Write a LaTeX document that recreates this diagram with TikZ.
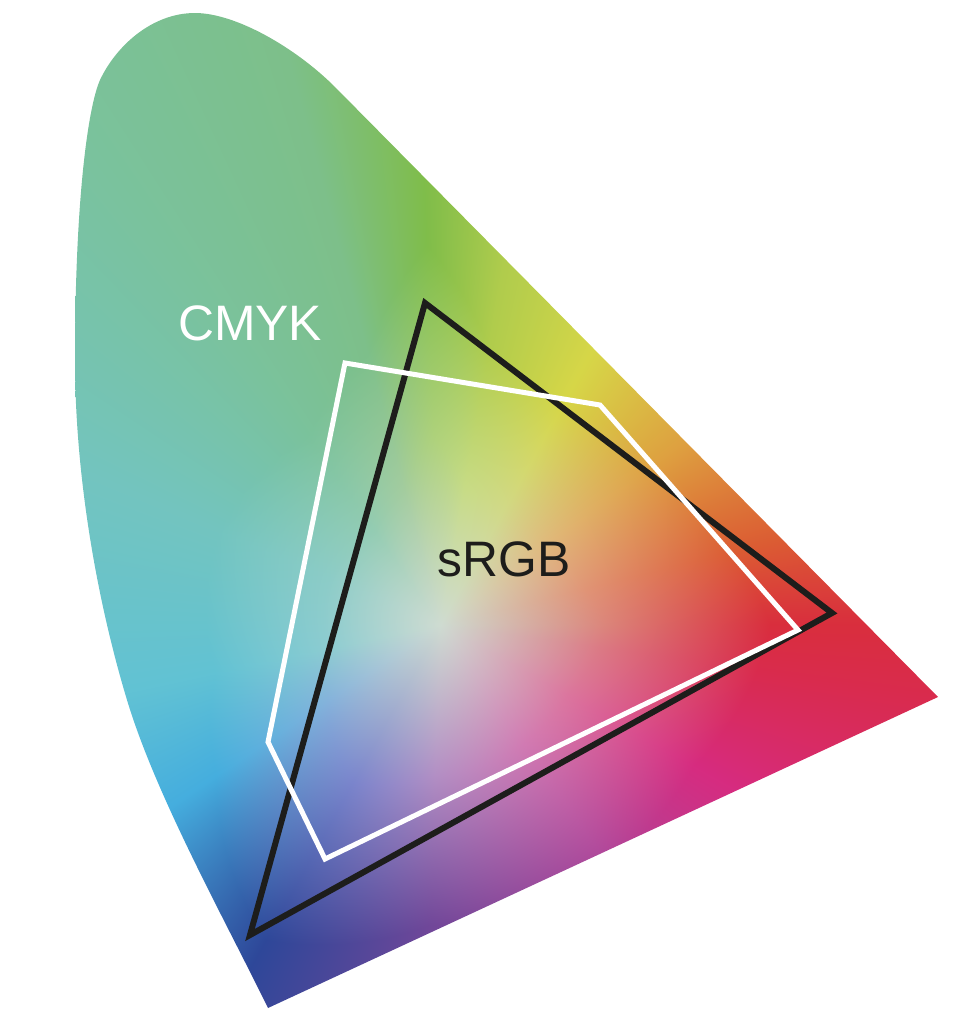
\documentclass[tikz,border=0pt]{standalone}
\usepackage{fontspec}
\setmainfont{Liberation Sans}
\definecolor{gblack}{HTML}{1D1D1B}
% t = (a - a0)/(a1 - a0)
\def\myT#1#2{ #1 sub #2 #1 sub div }
% t -> four values, linear between (#1 #2 #3 #4) and (#5 #6 #7 #8)
\def\myLerp#1#2#3#4#5#6#7#8{ dup #5 #1 sub mul #1 add exch dup #6 #2 sub mul #2 add exch dup #7 #3 sub mul #3 add exch #8 #4 sub mul #4 add }
\pgfdeclarefunctionalshading{cie}{\pgfpointorigin}{\pgfpoint{977bp}{1024bp}}{}{
 exch 440.137 sub exch 399.311 sub
 2 copy dup mul exch dup mul add sqrt
 3 1 roll exch atan dup
 % edge colour and saturation radius by hue angle
 dup 14 lt { \myT{0}{14} \myLerp{0.85}{0.18}{0.24}{330}{0.86}{0.36}{0.20}{300} } {
 dup 37 lt { \myT{14}{37} \myLerp{0.86}{0.36}{0.20}{300}{0.87}{0.63}{0.25}{270} } {
 dup 61 lt { \myT{37}{61} \myLerp{0.87}{0.63}{0.25}{270}{0.84}{0.84}{0.28}{250} } {
 dup 80 lt { \myT{61}{80} \myLerp{0.84}{0.84}{0.28}{250}{0.69}{0.80}{0.30}{280} } {
 dup 92 lt { \myT{80}{92} \myLerp{0.69}{0.80}{0.30}{280}{0.50}{0.74}{0.29}{380} } {
 dup 105 lt { \myT{92}{105} \myLerp{0.50}{0.74}{0.29}{380}{0.49}{0.75}{0.54}{280} } {
 dup 125 lt { \myT{105}{125} \myLerp{0.49}{0.75}{0.54}{280}{0.48}{0.76}{0.61}{230} } {
 dup 157 lt { \myT{125}{157} \myLerp{0.48}{0.76}{0.61}{230}{0.45}{0.77}{0.75}{240} } {
 dup 192 lt { \myT{157}{192} \myLerp{0.45}{0.77}{0.75}{240}{0.38}{0.76}{0.83}{230} } {
 dup 214 lt { \myT{192}{214} \myLerp{0.38}{0.76}{0.83}{230}{0.27}{0.68}{0.87}{270} } {
 dup 241 lt { \myT{214}{241} \myLerp{0.27}{0.68}{0.87}{270}{0.18}{0.28}{0.60}{360} } {
 dup 268 lt { \myT{241}{268} \myLerp{0.18}{0.28}{0.60}{360}{0.44}{0.28}{0.60}{300} } {
 dup 305 lt { \myT{268}{305} \myLerp{0.44}{0.28}{0.60}{300}{0.68}{0.27}{0.60}{290} } {
 dup 331 lt { \myT{305}{331} \myLerp{0.68}{0.27}{0.60}{290}{0.84}{0.17}{0.50}{290} } {
 dup 352 lt { \myT{331}{352} \myLerp{0.84}{0.17}{0.50}{290}{0.85}{0.17}{0.30}{320} } {
 \myT{352}{360} \myLerp{0.85}{0.17}{0.30}{320}{0.85}{0.18}{0.24}{330}
 } ifelse } ifelse } ifelse } ifelse } ifelse
 } ifelse } ifelse } ifelse } ifelse } ifelse
 } ifelse } ifelse } ifelse } ifelse } ifelse
 % u = r / S, clamped
 6 -1 roll exch div dup 1 gt { pop 1 } if
 5 -1 roll
 % mid colour by hue angle
 dup 14 lt { \myT{0}{14} \myLerp{0.86}{0.52}{0.48}{0.5}{0.88}{0.58}{0.46}{0.5} } {
 dup 37 lt { \myT{14}{37} \myLerp{0.88}{0.58}{0.46}{0.5}{0.88}{0.72}{0.48}{0.5} } {
 dup 61 lt { \myT{37}{61} \myLerp{0.88}{0.72}{0.48}{0.5}{0.82}{0.85}{0.54}{0.5} } {
 dup 80 lt { \myT{61}{80} \myLerp{0.82}{0.85}{0.54}{0.5}{0.78}{0.86}{0.52}{0.5} } {
 dup 92 lt { \myT{80}{92} \myLerp{0.78}{0.86}{0.52}{0.5}{0.68}{0.82}{0.48}{0.5} } {
 dup 105 lt { \myT{92}{105} \myLerp{0.68}{0.82}{0.48}{0.5}{0.64}{0.80}{0.62}{0.5} } {
 dup 125 lt { \myT{105}{125} \myLerp{0.64}{0.80}{0.62}{0.5}{0.58}{0.80}{0.70}{0.5} } {
 dup 157 lt { \myT{125}{157} \myLerp{0.58}{0.80}{0.70}{0.5}{0.55}{0.80}{0.78}{0.5} } {
 dup 192 lt { \myT{157}{192} \myLerp{0.55}{0.80}{0.78}{0.5}{0.55}{0.80}{0.82}{0.5} } {
 dup 214 lt { \myT{192}{214} \myLerp{0.55}{0.80}{0.82}{0.5}{0.52}{0.70}{0.86}{0.5} } {
 dup 241 lt { \myT{214}{241} \myLerp{0.52}{0.70}{0.86}{0.5}{0.48}{0.52}{0.80}{0.5} } {
 dup 268 lt { \myT{241}{268} \myLerp{0.48}{0.52}{0.80}{0.5}{0.70}{0.56}{0.77}{0.5} } {
 dup 305 lt { \myT{268}{305} \myLerp{0.70}{0.56}{0.77}{0.5}{0.82}{0.48}{0.70}{0.5} } {
 dup 331 lt { \myT{305}{331} \myLerp{0.82}{0.48}{0.70}{0.5}{0.86}{0.46}{0.62}{0.5} } {
 dup 352 lt { \myT{331}{352} \myLerp{0.86}{0.46}{0.62}{0.5}{0.86}{0.48}{0.52}{0.5} } {
 \myT{352}{360} \myLerp{0.86}{0.48}{0.52}{0.5}{0.86}{0.52}{0.48}{0.5}
 } ifelse } ifelse } ifelse } ifelse } ifelse
 } ifelse } ifelse } ifelse } ifelse } ifelse
 } ifelse } ifelse } ifelse } ifelse } ifelse
 % stack: Er Eg Eb u Mr Mg Mb Q
 4 index 1 index lt {
   5 -1 roll exch div
   exch 0.82 sub 1 index mul 0.82 add 3 1 roll
   exch 0.86 sub 1 index mul 0.86 add 3 1 roll
   4 -1 roll 0.81 sub mul 0.81 add 3 1 roll
   6 3 roll pop pop pop
 } {
   5 -1 roll 1 index sub exch 1 exch sub div
   exch 5 -1 roll 1 index sub 2 index mul add
   5 -1 roll 3 index sub 2 index mul 3 index add
   4 -1 roll pop
   5 -1 roll 4 index sub 3 index mul 4 index add
   3 1 roll exch
   5 3 roll pop pop
 } ifelse
}
\tikzset{
  blackgamut/.style={draw=gblack, line width=6bp, line join=miter},
  whitegamut/.style={draw=white, line width=5bp, line join=miter},
  lbl/.style={font=\fontsize{50}{60}\selectfont, inner sep=0pt, anchor=base}
}
\begin{document}
\begin{tikzpicture}[x=1bp, y=-1bp]
\useasboundingbox (0,0) rectangle (977,1024);
% horseshoe
\begin{scope}
\path[clip] (938,697) -- (335,87)
  .. controls (295,47) and (235,13) .. (195,13)
  .. controls (152,13) and (116,46) .. (100,80)
  .. controls (88,107) and (75,200) .. (75,360)
  .. controls (75,470) and (95,594) .. (127,700)
  .. controls (156,796) and (224,918) .. (268,1008)
  -- cycle;
\node[inner sep=0pt, outer sep=0pt, anchor=south west] (shade) at (0,1024) {\pgfuseshading{cie}};
\end{scope}
% gamut outlines
\coordinate (b1) at (425,303);
\coordinate (b2) at (832,613);
\coordinate (b3) at (250,935);
\coordinate (w1) at (345,363);
\coordinate (w2) at (600,405);
\coordinate (w3) at (798,630);
\coordinate (w4) at (325,859);
\coordinate (w5) at (268,742);
\draw[blackgamut] (b1) -- (b2) -- (b3) -- cycle;
\draw[whitegamut] (w1) -- (w2) -- (w3) -- (w4) -- (w5) -- cycle;
\node[lbl, white] (cmyk) at (250,340) {CMYK};
\node[lbl, gblack] (srgb) at (504,576) {sRGB};
\end{tikzpicture}
\end{document}
